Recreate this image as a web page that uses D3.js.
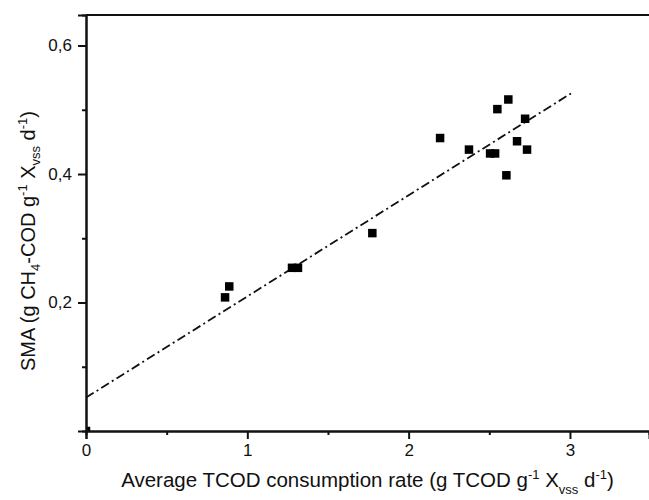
<!DOCTYPE html>
<html>
<head>
<meta charset="utf-8">
<script src="https://cdn.jsdelivr.net/npm/d3@7"></script>
<style>
  body { margin: 0; background: #fff; }
  text { font-family: "Liberation Sans", Arial, sans-serif; fill: #111; }
</style>
</head>
<body>
<div id="chart"></div>
<script>
// measured points (TCOD consumption rate, SMA)
let tcodRate = [0, 0.862, 0.888, 1.277, 1.314, 1.775, 2.195, 2.374, 2.505, 2.536,
                2.55, 2.606, 2.618, 2.672, 2.722, 2.734];
let smaValue = [0, 0.208, 0.225, 0.254, 0.254, 0.308, 0.456, 0.438, 0.432, 0.432,
                0.501, 0.398, 0.516, 0.451, 0.486, 0.438];

// linear fit endpoints
let fitX = [0, 3.01];
let fitY = [0.052, 0.526];

let xMajor = [0, 1, 2, 3];
let xMinor = [0.5, 1.5, 2.5];
let yMajor = [0.2, 0.4, 0.6];
let yMinor = [0.1, 0.3, 0.5];

let margin = { top: 15, right: 0, bottom: 69, left: 86 },
    width = 649 - margin.left - margin.right,
    height = 500 - margin.top - margin.bottom;

let x = d3.scaleLinear().domain([0, 3.49]).range([0, width]);
let y = d3.scaleLinear().domain([0, 0.6475]).range([height, 0]);

let comma = d3.formatLocale({ decimal: ",", thousands: ".", grouping: [3], currency: ["", ""] });
let fmtY = comma.format(".1f");

let svg = d3.select("#chart").append("svg")
    .attr("width", 649)
    .attr("height", 500)
    .append("g")
    .attr("transform", "translate(" + margin.left + "," + margin.top + ")");

svg.append("clipPath").attr("id", "plotclip")
    .append("rect")
    .attr("width", width)
    .attr("height", height);

let plot = svg.append("g").attr("clip-path", "url(#plotclip)");

// fit line
let pts = fitX.map(function(d, i) { return [d, fitY[i]]; });
plot.append("path")
    .attr("d", d3.line().x(function(d) { return x(d[0]); }).y(function(d) { return y(d[1]); })(pts))
    .attr("fill", "none")
    .attr("stroke", "#111")
    .attr("stroke-width", 1.8)
    .attr("stroke-dasharray", "9,3.5,2,3.5");

// squares
let s = 8.5;
plot.selectAll(".pt")
    .data(tcodRate)
    .enter()
    .append("rect")
    .attr("class", "pt")
    .attr("x", function(d) { return x(d) - s / 2; })
    .attr("y", function(d, i) { return y(smaValue[i]) - s / 2; })
    .attr("width", s)
    .attr("height", s)
    .attr("fill", "#000");

// x axis
let xAxis = svg.append("g")
    .attr("transform", "translate(0," + height + ")")
    .call(d3.axisBottom(x).tickValues(xMajor).tickFormat(d3.format("d")).tickSize(8).tickPadding(5));
let xMin = svg.append("g")
    .attr("transform", "translate(0," + height + ")")
    .call(d3.axisBottom(x).tickValues(xMinor).tickFormat("").tickSize(4));

// y axis
let yAxis = svg.append("g")
    .call(d3.axisLeft(y).tickValues(yMajor).tickFormat(fmtY).tickSize(8).tickPadding(6));
let yMin = svg.append("g")
    .call(d3.axisLeft(y).tickValues(yMinor).tickFormat("").tickSize(4));

[xAxis, xMin, yAxis, yMin].forEach(function(a) {
    a.select(".domain").attr("stroke", "#111").attr("stroke-width", 2);
    a.selectAll(".tick line").attr("stroke", "#111").attr("stroke-width", 2);
    a.selectAll(".tick text").style("font-size", "17px").attr("fill", "#111");
});

// top border
svg.append("line")
    .attr("x1", 0).attr("x2", width)
    .attr("y1", 0).attr("y2", 0)
    .attr("stroke", "#111")
    .attr("stroke-width", 2);

// x title
let xt = svg.append("text")
    .attr("x", width / 2)
    .attr("y", 487 - margin.top)
    .style("text-anchor", "middle")
    .style("font-size", "20.5px");
xt.append("tspan").text("Average TCOD consumption rate (g TCOD g");
xt.append("tspan").attr("dy", -8).style("font-size", "13px").text("-1");
xt.append("tspan").attr("dy", 8).text(" X");
xt.append("tspan").attr("dy", 7).style("font-size", "13px").text("vss");
xt.append("tspan").attr("dy", -7).text(" d");
xt.append("tspan").attr("dy", -8).style("font-size", "13px").text("-1");
xt.append("tspan").attr("dy", 8).text(")");

// y title
let yt = svg.append("text")
    .attr("transform", "rotate(-90)")
    .attr("x", -(241 - margin.top))
    .attr("y", 35 - margin.left)
    .style("text-anchor", "middle")
    .style("font-size", "20px");
yt.append("tspan").text("SMA (g CH");
yt.append("tspan").attr("dy", 5).style("font-size", "13px").text("4");
yt.append("tspan").attr("dy", -5).text("-COD g");
yt.append("tspan").attr("dy", -8).style("font-size", "13px").text("-1");
yt.append("tspan").attr("dy", 8).text(" X");
yt.append("tspan").attr("dy", 5).style("font-size", "13px").text("vss");
yt.append("tspan").attr("dy", -5).text(" d");
yt.append("tspan").attr("dy", -8).style("font-size", "13px").text("-1");
yt.append("tspan").attr("dy", 8).text(")");
</script>
</body>
</html>
